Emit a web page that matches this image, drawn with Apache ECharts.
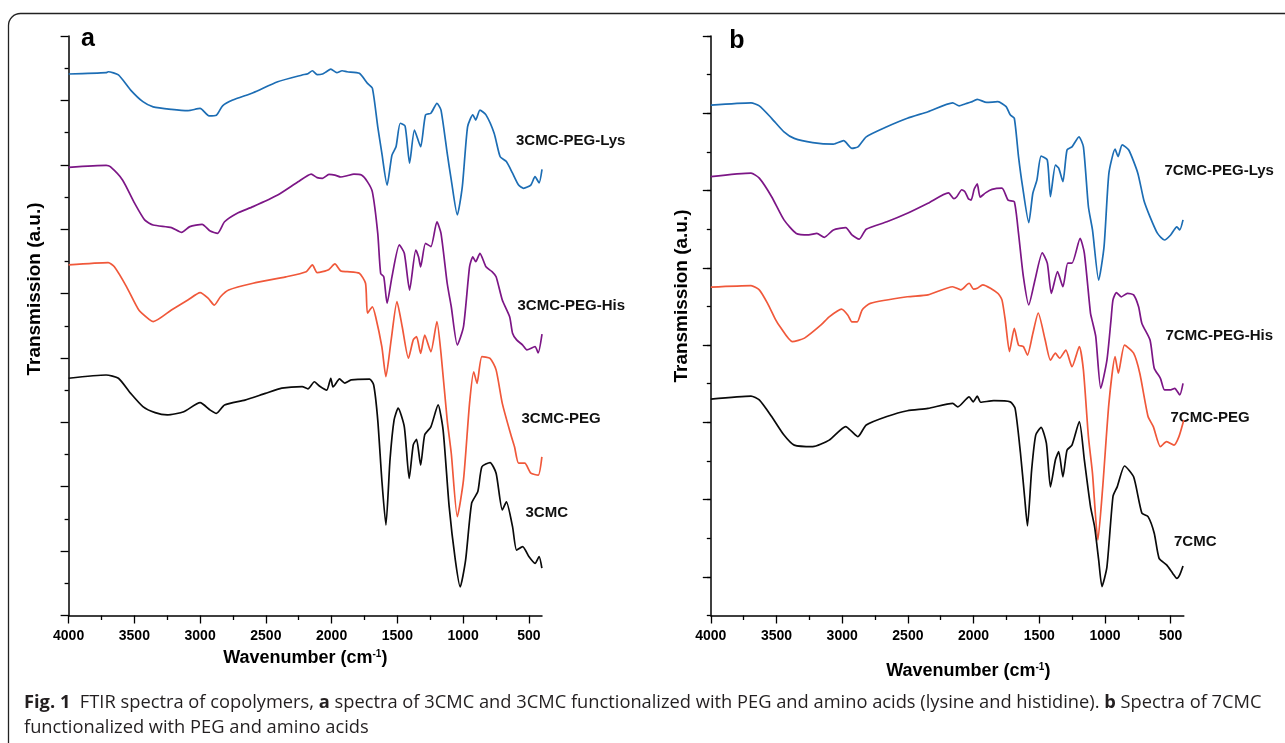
<!DOCTYPE html>
<html>
<head>
<meta charset="utf-8">
<script src="https://cdn.jsdelivr.net/npm/echarts@6/dist/echarts.min.js"></script>
<style>
  html, body { margin: 0; padding: 0; background: #fff; }
  #chart { width: 1285px; height: 743px; }
</style>
</head>
<body>
<div id="chart"></div>
<script>
// FTIR spectra (transmission, a.u.) versus wavenumber (cm-1), offset vertically per sample.

// ---- panel a: 3CMC series ----
const wnLys3 = [4000, 3715, 3699, 3621, 3528, 3435, 3357, 3218, 3093, 3000, 2932, 2876, 2829, 2752, 2597, 2410, 2224, 2180, 2146, 2110, 2069, 2040, 2006, 1960, 1920, 1882, 1789, 1727, 1690, 1649, 1618, 1578, 1541, 1510, 1478, 1441, 1407, 1370, 1323, 1286, 1245, 1199, 1168, 1121, 1090, 1044, 1006, 966, 926, 904, 872, 826, 764, 718, 671, 624, 578, 540, 485, 453, 422, 400];
const trLys3 = [168.2, 168.6, 168.9, 167.9, 163.2, 159.6, 158.0, 157.2, 156.8, 157.5, 155.2, 155.4, 158.3, 160.1, 162.4, 165.8, 167.9, 168.3, 169.2, 168.0, 168.2, 168.9, 169.7, 168.6, 169.2, 168.9, 168.4, 165.3, 163.8, 151.8, 143.6, 133.7, 143.0, 145.6, 152.9, 152.0, 140.5, 150.8, 145.6, 155.5, 156.0, 159.1, 157.0, 143.6, 135.3, 124.4, 133.2, 151.8, 155.5, 153.9, 157.0, 155.5, 149.8, 142.5, 141.0, 137.4, 133.7, 132.7, 133.7, 136.3, 134.4, 138.6];

const wnHis3 = [4000, 3715, 3683, 3590, 3497, 3420, 3357, 3218, 3140, 3078, 2985, 2923, 2867, 2814, 2721, 2597, 2410, 2255, 2155, 2110, 2069, 2020, 1975, 1930, 1882, 1830, 1773, 1727, 1690, 1649, 1627, 1603, 1578, 1541, 1485, 1447, 1407, 1360, 1339, 1323, 1286, 1245, 1199, 1168, 1121, 1090, 1044, 997, 951, 926, 904, 872, 826, 780, 749, 702, 646, 624, 593, 547, 515, 453, 429, 400];
const trHis3 = [139.2, 139.8, 139.4, 135.3, 128.0, 122.8, 121.3, 120.5, 119.0, 120.8, 121.5, 119.4, 118.7, 122.3, 124.9, 127.0, 130.6, 134.7, 137.1, 136.0, 135.8, 137.0, 136.8, 136.2, 136.6, 137.1, 136.8, 134.7, 131.6, 118.7, 106.3, 105.2, 97.0, 105.2, 115.1, 112.5, 101.1, 113.5, 111.4, 108.3, 115.6, 114.6, 122.3, 118.7, 103.2, 95.9, 84.0, 89.7, 108.3, 111.4, 109.9, 112.5, 108.3, 106.8, 105.2, 98.0, 92.8, 87.7, 85.6, 84.0, 82.5, 83.5, 81.6, 87.4];

const wnPeg3 = [4000, 3699, 3652, 3559, 3466, 3388, 3357, 3218, 3093, 3000, 2938, 2892, 2845, 2783, 2597, 2348, 2193, 2146, 2110, 2069, 2020, 1975, 1930, 1882, 1789, 1742, 1727, 1690, 1665, 1618, 1587, 1547, 1503, 1463, 1416, 1379, 1354, 1323, 1292, 1245, 1199, 1168, 1121, 1090, 1044, 997, 951, 919, 894, 857, 795, 749, 702, 640, 609, 578, 531, 485, 429, 401];
const trPeg3 = [108.9, 109.6, 108.3, 102.1, 94.9, 92.0, 91.3, 94.9, 98.0, 100.3, 98.5, 96.4, 99.0, 101.1, 103.2, 105.2, 106.8, 108.9, 106.5, 106.8, 107.5, 109.2, 107.0, 106.8, 106.3, 103.2, 93.9, 95.9, 92.8, 83.5, 74.2, 85.6, 97.5, 89.7, 79.9, 85.6, 86.6, 81.4, 87.1, 81.9, 91.3, 81.4, 60.7, 50.4, 30.7, 42.1, 65.9, 75.7, 72.1, 80.4, 79.9, 76.3, 65.9, 56.6, 52.4, 47.3, 47.3, 44.2, 43.6, 49.3];

const wnCmc3 = [4000, 3715, 3621, 3528, 3435, 3342, 3249, 3124, 3000, 2923, 2876, 2814, 2659, 2503, 2379, 2224, 2180, 2131, 2090, 2037, 2006, 1990, 1975, 1940, 1900, 1851, 1711, 1680, 1649, 1618, 1587, 1556, 1525, 1494, 1447, 1410, 1379, 1354, 1323, 1292, 1245, 1190, 1152, 1106, 1059, 1022, 981, 935, 888, 857, 795, 749, 702, 671, 624, 593, 547, 500, 453, 422, 401];
const trCmc3 = [73.7, 74.7, 73.7, 69.0, 64.9, 63.0, 62.3, 63.3, 66.1, 63.8, 62.8, 65.4, 66.9, 69.0, 70.6, 71.1, 70.4, 72.6, 71.2, 70.0, 73.7, 71.0, 71.6, 73.5, 72.2, 73.2, 73.4, 71.6, 60.7, 42.1, 28.1, 48.3, 60.7, 64.4, 58.6, 42.6, 53.0, 54.7, 46.7, 56.1, 58.6, 65.4, 57.6, 33.8, 17.2, 8.9, 17.2, 34.9, 38.5, 46.2, 47.5, 44.2, 32.8, 35.3, 27.6, 20.3, 21.4, 18.3, 16.2, 18.3, 14.7];

// ---- panel b: 7CMC series ----
const wnLys7 = [4000, 3694, 3631, 3537, 3443, 3365, 3224, 3067, 2989, 2926, 2880, 2817, 2660, 2504, 2347, 2159, 2110, 2066, 2020, 1972, 1900, 1815, 1752, 1721, 1690, 1658, 1627, 1580, 1549, 1518, 1486, 1439, 1415, 1377, 1352, 1320, 1289, 1251, 1198, 1164, 1126, 1095, 1048, 1007, 970, 923, 900, 869, 819, 750, 704, 657, 600, 547, 500, 453, 431, 406];
const trLys7 = [132.1, 132.7, 131.9, 128.7, 125.2, 123.5, 122.4, 122.0, 122.9, 120.9, 121.3, 123.9, 126.5, 128.7, 130.4, 132.7, 131.9, 132.4, 132.9, 133.6, 132.8, 133.0, 131.7, 129.6, 128.7, 118.8, 111.0, 101.7, 109.3, 112.7, 118.9, 117.9, 108.4, 116.6, 115.8, 112.3, 120.5, 121.3, 123.9, 121.3, 105.8, 99.8, 86.8, 95.5, 114.5, 120.7, 118.8, 121.8, 120.5, 114.5, 107.5, 103.2, 98.9, 97.2, 98.5, 100.6, 99.8, 102.4];

const wnHis7 = [4000, 3694, 3631, 3537, 3443, 3349, 3255, 3193, 3136, 3067, 2973, 2926, 2870, 2817, 2660, 2504, 2347, 2191, 2150, 2128, 2090, 2066, 2040, 2019, 1995, 1972, 1950, 1909, 1860, 1784, 1737, 1690, 1658, 1621, 1580, 1533, 1477, 1439, 1408, 1361, 1320, 1283, 1251, 1189, 1157, 1110, 1095, 1070, 1032, 985, 954, 939, 913, 876, 829, 782, 744, 719, 657, 625, 578, 547, 500, 469, 431, 406];
const trHis7 = [113.6, 114.5, 113.2, 108.4, 102.4, 98.9, 98.5, 98.9, 97.9, 99.8, 100.4, 98.5, 97.4, 100.0, 101.9, 104.1, 106.7, 109.4, 107.9, 108.4, 110.2, 109.7, 107.9, 107.5, 110.4, 111.7, 108.3, 109.4, 110.3, 110.6, 107.5, 107.1, 98.9, 87.7, 80.4, 86.8, 93.9, 91.2, 83.4, 89.0, 85.1, 91.2, 91.2, 97.6, 93.8, 78.2, 76.0, 72.2, 58.8, 66.1, 76.5, 81.7, 83.6, 82.5, 83.4, 83.0, 79.9, 75.6, 71.3, 64.0, 61.4, 58.4, 58.4, 58.8, 57.1, 60.1];

const wnPeg7 = [4000, 3694, 3631, 3568, 3506, 3474, 3380, 3287, 3161, 3099, 3005, 2958, 2926, 2886, 2848, 2786, 2504, 2347, 2159, 2097, 2034, 2000, 1972, 1930, 1815, 1784, 1759, 1727, 1690, 1658, 1621, 1590, 1549, 1508, 1455, 1415, 1377, 1345, 1298, 1251, 1195, 1164, 1126, 1095, 1054, 1017, 970, 923, 898, 851, 782, 735, 672, 632, 578, 531, 475, 437, 400];
const trPeg7 = [85.0, 85.4, 84.3, 80.8, 76.5, 74.8, 70.9, 71.8, 75.2, 77.3, 79.3, 77.8, 76.0, 76.0, 79.1, 80.8, 82.5, 83.0, 85.1, 84.3, 86.0, 84.5, 84.7, 85.6, 83.4, 81.7, 76.5, 68.3, 74.3, 70.0, 69.6, 67.4, 73.0, 78.3, 71.3, 66.1, 67.9, 66.6, 68.7, 64.4, 69.6, 63.5, 46.3, 36.8, 19.5, 33.3, 54.9, 67.0, 62.7, 70.0, 67.9, 62.7, 51.5, 48.9, 43.7, 45.0, 44.1, 46.3, 50.6];

const wnCmc7 = [4000, 3694, 3631, 3537, 3443, 3365, 3224, 3099, 2973, 2926, 2880, 2817, 2660, 2504, 2347, 2159, 2120, 2034, 2003, 1972, 1946, 1846, 1721, 1684, 1643, 1612, 1590, 1558, 1527, 1486, 1446, 1415, 1377, 1352, 1320, 1289, 1251, 1195, 1157, 1110, 1079, 1048, 1023, 985, 939, 907, 851, 782, 719, 672, 625, 588, 531, 484, 453, 431, 406];
const trCmc7 = [56.0, 56.8, 55.8, 51.5, 46.7, 44.1, 43.7, 45.4, 48.9, 47.6, 46.3, 49.3, 51.5, 53.0, 53.6, 54.9, 54.0, 56.6, 55.3, 56.8, 55.2, 55.6, 55.3, 53.6, 42.0, 30.8, 23.2, 37.7, 46.7, 48.7, 44.6, 33.3, 40.3, 42.4, 35.9, 42.8, 44.1, 50.2, 40.3, 28.2, 23.0, 14.4, 7.5, 12.6, 30.8, 33.3, 38.7, 35.9, 26.5, 25.6, 21.3, 14.8, 13.1, 10.9, 9.6, 10.5, 12.8];

// axis ticks
const wnLabels = [4000, 3500, 3000, 2500, 2000, 1500, 1000, 500];
const wnMinor = [3750, 3250, 2750, 2250, 1750, 1250, 750];
const yMajorB = [10, 30, 50, 70, 90, 110, 130, 150];

const sampleNames = ['3CMC-PEG-Lys', '3CMC-PEG-His', '3CMC-PEG', '3CMC', '7CMC-PEG-Lys', '7CMC-PEG-His', '7CMC-PEG', '7CMC'];

const BLUE = '#1c6db4', PURPLE = '#7c1686', ORANGE = '#f0583a', BLACK = '#0a0a0a';
const FONT = '"Liberation Sans", Arial, sans-serif';

function pairs(xs, ys) { return xs.map((x, i) => [x, ys[i]]); }

const chart = echarts.init(document.getElementById('chart'), null, { renderer: 'canvas' });

const axisColor = '#000';
function mainX(grid, nameGap, shift) {
  return {
    type: 'value', gridIndex: grid, position: 'bottom', min: 400, max: 4000, inverse: true,
    axisLine: { show: true, onZero: false, lineStyle: { color: axisColor, width: 1.5 } },
    axisTick: { show: true, customValues: wnLabels, length: 8, lineStyle: { color: axisColor, width: 1.3 } },
    axisLabel: {
      customValues: wnLabels, formatter: v => String(v),
      color: '#000', fontFamily: FONT, fontWeight: 'bold', fontSize: 14, margin: 14
    },
    splitLine: { show: false },
    name: '{t|Wavenumber (cm}{s|-1}{t|)}',
    nameLocation: 'middle', nameGap: nameGap,
    nameTextStyle: {
      padding: [0, 0, 0, shift],
      rich: {
        t: { fontFamily: FONT, fontWeight: 'bold', fontSize: 18, color: '#000' },
        s: { fontFamily: FONT, fontWeight: 'bold', fontSize: 10, color: '#000', verticalAlign: 'top' }
      }
    }
  };
}
function minorX(grid) {
  return {
    type: 'value', gridIndex: grid, position: 'bottom', offset: 0, min: 400, max: 4000, inverse: true,
    axisLine: { show: false },
    axisTick: { show: true, customValues: wnMinor, length: 4.5, lineStyle: { color: axisColor, width: 1.3 } },
    axisLabel: { show: false }, splitLine: { show: false }
  };
}

function line(name, xs, ys, color, xi, yi) {
  return {
    name: name, type: 'line', xAxisIndex: xi, yAxisIndex: yi,
    data: pairs(xs, ys), showSymbol: false, symbol: 'none', smooth: 0.2,
    lineStyle: { color: color, width: 1.7, join: 'round' }, itemStyle: { color: color },
    silent: true, animation: false, z: 3
  };
}

const option = {
  backgroundColor: '#fff',
  animation: false,
  grid: [
    { left: 68.6, top: 36, width: 473.4, height: 579.5 },
    { left: 710.8, top: 36, width: 473, height: 579.5 }
  ],
  xAxis: [mainX(0, 34, 0), minorX(0), mainX(1, 47, 42), minorX(1)],
  yAxis: [
    {
      type: 'value', gridIndex: 0, position: 'left', min: 0, max: 180, interval: 20,
      axisLine: { show: true, lineStyle: { color: axisColor, width: 1.5 } },
      axisTick: { show: true, length: 8, lineStyle: { color: axisColor, width: 1.3 } },
      minorTick: { show: true, splitNumber: 2, length: 4, lineStyle: { color: axisColor, width: 1.3 } },
      axisLabel: { show: false }, splitLine: { show: false }, minorSplitLine: { show: false }
    },
    {
      type: 'value', gridIndex: 1, position: 'left', min: 0, max: 150, interval: 10,
      axisLine: { show: true, lineStyle: { color: axisColor, width: 1.5 } },
      axisTick: { show: true, length: 4, lineStyle: { color: axisColor, width: 1.3 } },
      axisLabel: { show: false }, splitLine: { show: false }
    },
    {
      type: 'value', gridIndex: 1, position: 'left', offset: 0, min: 0, max: 150,
      axisLine: { show: false },
      axisTick: { show: true, customValues: yMajorB, length: 8, lineStyle: { color: axisColor, width: 1.3 } },
      axisLabel: { show: false }, splitLine: { show: false }
    }
  ],
  series: [
    line(sampleNames[0], wnLys3, trLys3, BLUE, 0, 0),
    line(sampleNames[1], wnHis3, trHis3, PURPLE, 0, 0),
    line(sampleNames[2], wnPeg3, trPeg3, ORANGE, 0, 0),
    line(sampleNames[3], wnCmc3, trCmc3, BLACK, 0, 0),
    line(sampleNames[4], wnLys7, trLys7, BLUE, 2, 1),
    line(sampleNames[5], wnHis7, trHis7, PURPLE, 2, 1),
    line(sampleNames[6], wnPeg7, trPeg7, ORANGE, 2, 1),
    line(sampleNames[7], wnCmc7, trCmc7, BLACK, 2, 1)
  ]
};

// text annotations, frame and caption
const lblStyle = { fontFamily: FONT, fontWeight: 'bold', fontSize: 15, fill: '#111', verticalAlign: 'middle', align: 'left' };
const labelPos = [[516, 141], [517.5, 306], [521.5, 419], [525.5, 513], [1164.5, 171], [1165.5, 336], [1170.5, 417.5], [1174, 542]];
const yTitleStyle = { text: 'Transmission (a.u.)', fontFamily: FONT, fontWeight: 'bold', fontSize: 19, fill: '#000', align: 'center', verticalAlign: 'middle' };
const CAPFONT = '"Open Sans", Lato, sans-serif';

option.graphic = [
  { type: 'rect', silent: true, shape: { x: 8.5, y: 13.5, width: 1320, height: 800, r: 12 }, style: { fill: 'none', stroke: '#222', lineWidth: 1.3 }, z: 0 },
  { type: 'text', x: 88, y: 39, style: { text: 'a', fontFamily: FONT, fontWeight: 'bold', fontSize: 25, fill: '#000', align: 'center', verticalAlign: 'middle' } },
  { type: 'text', x: 737, y: 41, style: { text: 'b', fontFamily: FONT, fontWeight: 'bold', fontSize: 25, fill: '#000', align: 'center', verticalAlign: 'middle' } },
  { type: 'text', x: 35, y: 289, rotation: Math.PI / 2, style: yTitleStyle },
  { type: 'text', x: 682, y: 296, rotation: Math.PI / 2, style: yTitleStyle },
  ...sampleNames.map((n, i) => ({ type: 'text', x: labelPos[i][0], y: labelPos[i][1], style: Object.assign({ text: n }, lblStyle) })),
  {
    type: 'text', x: 24, y: 690,
    style: {
      text: '{b|Fig. 1}  FTIR spectra of copolymers, {b|a} spectra of 3CMC and 3CMC functionalized with PEG and amino acids (lysine and histidine). {b|b} Spectra of 7CMC\nfunctionalized with PEG and amino acids',
      fontFamily: CAPFONT, fontSize: 18.3, fill: '#231f20', lineHeight: 25, verticalAlign: 'top',
      rich: { b: { fontFamily: CAPFONT, fontWeight: 'bold', fontSize: 18.3, fill: '#231f20', lineHeight: 25 } }
    }
  }
];

chart.setOption(option);
</script>
</body>
</html>
